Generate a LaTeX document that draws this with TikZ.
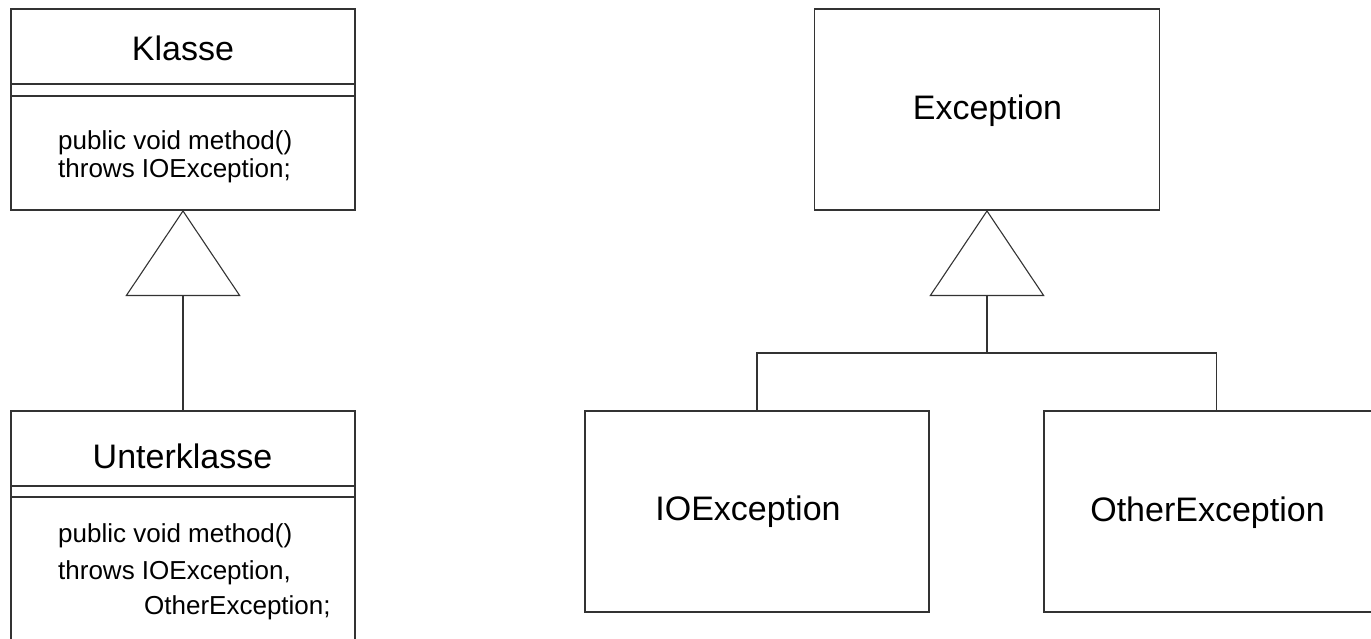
\documentclass[tikz,border=0pt]{standalone}
\usepackage{fontspec}
\setmainfont{Liberation Sans}
\usetikzlibrary{arrows.meta}
\begin{document}
\begin{tikzpicture}[x=1pt,y=-1pt,
  ln/.style={draw=black!80, line width=1.1pt},
  box/.style={ln, rectangle, inner sep=0pt, outer sep=0pt, fill=white},
  title/.style={font=\fontsize{34pt}{40pt}\selectfont, anchor=base, inner sep=0pt},
  body/.style={font=\fontsize{26pt}{30pt}\selectfont, anchor=base west, inner sep=0pt},
  inh/.style={ln, -{Triangle[open, length=86pt, width=115pt]}}]
\useasboundingbox (0,0) rectangle (1371,639);
\clip (0,0) rectangle (1371,639);
% left: Klasse / Unterklasse
\node[box, minimum width=344pt, minimum height=201pt] (klasse) at (183,109.5) {};
\draw[ln] (11,84) -- (355,84);
\draw[ln] (11,96) -- (355,96);
\node[title] (tk) at (183,61) {Klasse};
\node[body] (k1) at (58,150) {public void method()};
\node[body] (k2) at (58,178) {throws IOException;};

\node[box, minimum width=344pt, minimum height=300pt, anchor=north] (unter) at (183,411) {};
\draw[ln] (11,486) -- (355,486);
\draw[ln] (11,497) -- (355,497);
\node[title] (tu) at (182.5,468) {Unterklasse};
\node[body] (u1) at (58,542) {public void method()};
\node[body] (u2) at (58,579) {throws IOException,};
\node[body] (u3) at (144,614) {OtherException;};

\draw[inh] (unter.north) -- (klasse.south);

% right: Exception hierarchy
\node[box, minimum width=345pt, minimum height=201pt] (exc) at (987,109.5) {};
\node[title] (te) at (987.5,120) {Exception};
\node[box, minimum width=344pt, minimum height=201pt] (io) at (757,511.5) {};
\node[title] (ti) at (748,520) {IOException};
\node[box, minimum width=345pt, minimum height=201pt] (other) at (1216.5,511.5) {};
\node[title] (to) at (1207.5,521) {OtherException};

\coordinate (j) at (987,353);
\draw[ln] (io.north) |- (j) -| (other.north);
\draw[inh] (j) -- (exc.south);
\end{tikzpicture}
\end{document}
